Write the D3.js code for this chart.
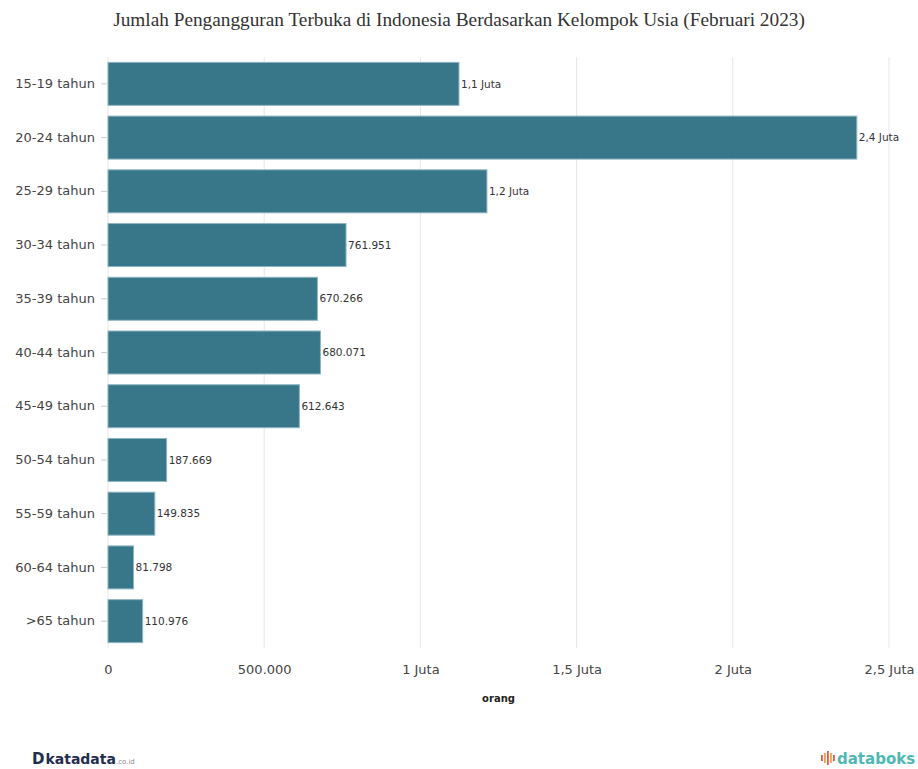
<!DOCTYPE html>
<html lang="id">
<head>
    <meta charset="UTF-8">
    <title>Jumlah Pengangguran Terbuka di Indonesia Berdasarkan Kelompok Usia (Februari 2023)</title>
    <script src="https://d3js.org/d3.v7.min.js"></script>
    <style>
        body { margin: 0; background: #fff; }
        svg { display: block; }
    </style>
</head>
<body>
<svg id="chart"></svg>
<script>
    // data
    var kelompokUsia = ["15-19 tahun", "20-24 tahun", "25-29 tahun", "30-34 tahun", "35-39 tahun",
        "40-44 tahun", "45-49 tahun", "50-54 tahun", "55-59 tahun", "60-64 tahun", ">65 tahun"];
    var jumlahOrang = [1123500, 2397000, 1213000, 761951, 670266, 680071, 612643, 187669, 149835, 81798, 110976];
    var xTicks = [0, 500000, 1000000, 1500000, 2000000, 2500000];

    var width = 918, height = 769;
    var margin = {top: 57, right: 29, bottom: 121, left: 108};

    var svg = d3.select("#chart")
        .attr("width", width)
        .attr("height", height);

    var data = kelompokUsia.map(function(k, i) { return {usia: k, nilai: jumlahOrang[i]}; });

    var x = d3.scaleLinear()
        .domain([0, 2500000])
        .range([margin.left, width - margin.right]);

    var y = d3.scaleBand()
        .domain(kelompokUsia)
        .range([margin.top, height - margin.bottom])
        .paddingInner(0.2)
        .paddingOuter(0.1);

    // indonesian number formatting
    var idLocale = d3.formatLocale({decimal: ",", thousands: ".", grouping: [3], currency: ["Rp", ""]});
    function fmtTick(v) {
        if (v >= 1000000) return idLocale.format(",~r")(v / 1000000) + " Juta";
        return idLocale.format(",d")(v);
    }
    function fmtLabel(v) {
        if (v >= 1000000) return idLocale.format(",.1f")(v / 1000000) + " Juta";
        return idLocale.format(",d")(v);
    }

    // title
    svg.append("text")
        .attr("x", width / 2)
        .attr("y", 26)
        .attr("text-anchor", "middle")
        .style("font-family", "'Liberation Serif', 'Times New Roman', serif")
        .style("font-size", "19.3px")
        .style("fill", "#333")
        .text("Jumlah Pengangguran Terbuka di Indonesia Berdasarkan Kelompok Usia (Februari 2023)");

    // vertical grid lines
    svg.append("g")
        .selectAll("line")
        .data(xTicks)
        .enter().append("line")
        .attr("x1", function(d) { return x(d); })
        .attr("x2", function(d) { return x(d); })
        .attr("y1", margin.top)
        .attr("y2", height - margin.bottom)
        .attr("stroke", "#e6e6e6")
        .attr("stroke-width", 1);

    // x axis
    var xAxis = svg.append("g")
        .attr("transform", "translate(0," + (height - margin.bottom) + ")")
        .call(d3.axisBottom(x).tickValues(xTicks).tickFormat(fmtTick).tickSize(0).tickPadding(17));
    xAxis.select(".domain").remove();
    xAxis.selectAll("text")
        .style("font-family", "'DejaVu Sans', Verdana, sans-serif")
        .style("font-size", "13px")
        .style("fill", "#444");

    // y axis
    var yAxis = svg.append("g")
        .attr("transform", "translate(" + (margin.left - 1) + ",0)")
        .call(d3.axisLeft(y).tickSize(6).tickPadding(6));
    yAxis.select(".domain").remove();
    yAxis.selectAll("line").attr("stroke", "#ccc");
    yAxis.selectAll("text")
        .style("font-family", "'DejaVu Sans', Verdana, sans-serif")
        .style("font-size", "13px")
        .style("fill", "#444");

    // bars
    svg.append("g")
        .selectAll("rect")
        .data(data)
        .enter().append("rect")
        .attr("x", x(0))
        .attr("y", function(d) { return y(d.usia); })
        .attr("width", function(d) { return x(d.nilai) - x(0); })
        .attr("height", y.bandwidth())
        .attr("fill", "#2d7083")
        .attr("fill-opacity", 0.95)
        .attr("stroke", "#8db6c2")
        .attr("stroke-width", 1);

    // value labels
    svg.append("g")
        .selectAll("text")
        .data(data)
        .enter().append("text")
        .attr("x", function(d) { return x(d.nilai) + 2; })
        .attr("y", function(d) { return y(d.usia) + y.bandwidth() / 2; })
        .attr("dy", "0.35em")
        .style("font-family", "'DejaVu Sans', Verdana, sans-serif")
        .style("font-size", "10.5px")
        .style("fill", "#333")
        .text(function(d) { return fmtLabel(d.nilai); });

    // axis title
    svg.append("text")
        .attr("x", (x.range()[0] + x.range()[1]) / 2)
        .attr("y", 702)
        .attr("text-anchor", "middle")
        .style("font-family", "'DejaVu Sans', Verdana, sans-serif")
        .style("font-size", "10px")
        .style("font-weight", "bold")
        .style("fill", "#222")
        .text("orang");

    // footer logos (as text)
    var kata = svg.append("text")
        .attr("x", 32)
        .attr("y", 764)
        .style("font-family", "'DejaVu Sans', Verdana, sans-serif")
        .style("fill", "#1f2d4f");
    kata.append("tspan").style("font-size", "15px").style("font-weight", "bold").text("D");
    kata.append("tspan").style("font-size", "14px").style("font-weight", "bold").attr("dx", 1).text("katadata");
    kata.append("tspan").style("font-size", "7px").style("fill", "#888").text(".co.id");

    // databoks icon: little bars
    var iconBars = [6, 10, 14, 10, 6];
    svg.append("g")
        .selectAll("rect")
        .data(iconBars)
        .enter().append("rect")
        .attr("x", function(d, i) { return 821 + i * 3; })
        .attr("y", function(d) { return 758 - d / 2; })
        .attr("width", 1.8)
        .attr("height", function(d) { return d; })
        .attr("fill", function(d, i) { return i % 2 ? "#f0a04b" : "#e8584d"; });
    svg.append("text")
        .attr("x", 837)
        .attr("y", 764)
        .style("font-family", "'DejaVu Sans', Verdana, sans-serif")
        .style("font-size", "15px")
        .style("font-weight", "bold")
        .style("fill", "#4fb8b4")
        .text("databoks");
</script>
</body>
</html>
